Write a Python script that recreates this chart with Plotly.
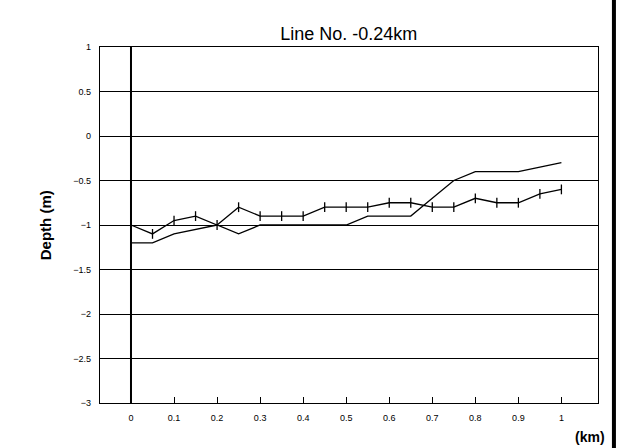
import plotly.graph_objects as go

# Distance along the line (km)
distance_km = [0.0, 0.05, 0.1, 0.15, 0.2, 0.25, 0.3, 0.35, 0.4, 0.45, 0.5,
               0.55, 0.6, 0.65, 0.7, 0.75, 0.8, 0.85, 0.9, 0.95, 1.0]

# Surveyed depth profile (marked with +)
depth_survey = [-1.0, -1.1, -0.95, -0.9, -1.0, -0.8, -0.9, -0.9, -0.9, -0.8, -0.8,
                -0.8, -0.75, -0.75, -0.8, -0.8, -0.7, -0.75, -0.75, -0.65, -0.6]

# Second profile (plain line)
depth_profile = [-1.2, -1.2, -1.1, -1.05, -1.0, -1.1, -1.0, -1.0, -1.0, -1.0, -1.0,
                 -0.9, -0.9, -0.9, -0.7, -0.5, -0.4, -0.4, -0.4, -0.35, -0.3]

x_ticks = [0, 0.1, 0.2, 0.3, 0.4, 0.5, 0.6, 0.7, 0.8, 0.9, 1]
x_tick_text = ["0", "0.1", "0.2", "0.3", "0.4", "0.5", "0.6", "0.7", "0.8", "0.9", "1"]
y_ticks = [1, 0.5, 0, -0.5, -1, -1.5, -2, -2.5, -3]
y_tick_text = ["1", "0.5", "0", "\u22120.5", "\u22121", "\u22121.5", "\u22122", "\u22122.5", "\u22123"]

fig = go.Figure()

fig.add_trace(go.Scatter(
    x=distance_km, y=depth_profile, mode="lines",
    line=dict(color="black", width=1.3),
    showlegend=False,
))
fig.add_trace(go.Scatter(
    x=distance_km, y=depth_survey, mode="lines+markers",
    line=dict(color="black", width=1.3),
    marker=dict(symbol="line-ns", size=7, line=dict(color="black", width=1.3)),
    showlegend=False,
))

# Vertical reference line at the start of the line
fig.add_shape(type="line", xref="x", yref="y", x0=0, x1=0, y0=-3, y1=1,
              line=dict(color="black", width=2))

# Page edge on the right
fig.add_shape(type="line", xref="paper", yref="paper", x0=1.032, x1=1.032,
              y0=-0.14, y1=1.14, line=dict(color="black", width=4))

fig.update_layout(
    width=620, height=448,
    margin=dict(l=100, r=22, t=47, b=45),
    paper_bgcolor="white", plot_bgcolor="white",
    font=dict(family="Liberation Sans, Arial, sans-serif", color="black", size=9),
    title=dict(text="Line No. -0.24km", x=0.5625, xanchor="center",
               y=0.925, yanchor="middle",
               font=dict(size=18, color="black")),
    xaxis=dict(
        range=[-0.072, 1.085], tickvals=x_ticks, ticktext=x_tick_text,
        ticks="inside", ticklen=6, tickcolor="black", tickwidth=1,
        showgrid=False, zeroline=False,
        showline=True, linecolor="black", linewidth=1.3, mirror=True,
        tickfont=dict(size=9), ticklabelstandoff=6,
    ),
    yaxis=dict(
        range=[-3, 1], tickvals=y_ticks, ticktext=y_tick_text,
        ticks="", showgrid=True, gridcolor="black", gridwidth=1,
        zeroline=False,
        showline=True, linecolor="black", linewidth=1.3, mirror=True,
        tickfont=dict(size=9), ticklabelstandoff=6,
    ),
    annotations=[
        dict(text="<b>Depth (m)</b>", xref="paper", yref="paper",
             x=-0.11, y=0.5, xanchor="center", yanchor="middle",
             textangle=-90, showarrow=False, font=dict(size=15)),
        dict(text="<b>(km)</b>", xref="paper", yref="paper",
             x=0.984, y=-0.095, xanchor="center", yanchor="middle",
             showarrow=False, font=dict(size=14)),
    ],
)

fig.write_html("out.html")
